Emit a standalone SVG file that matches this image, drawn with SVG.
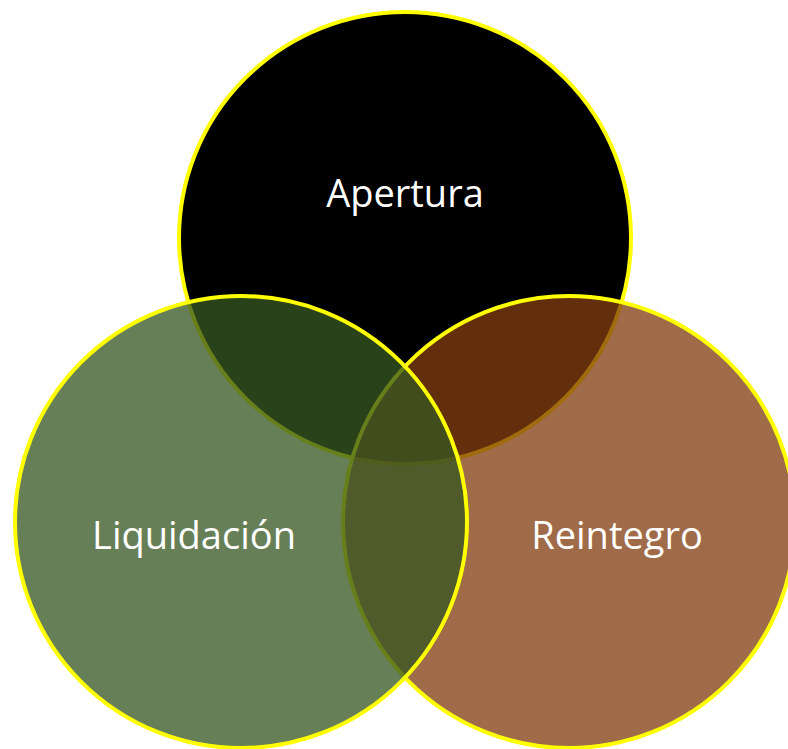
<svg xmlns="http://www.w3.org/2000/svg" width="788" height="749" viewBox="0 0 788 749">
<style>
.c{stroke:#ffff00;stroke-width:4}
.t{font-family:"Open Sans","Liberation Sans",sans-serif;font-size:38px;fill:#ffffff;text-anchor:middle}
</style>
<rect width="788" height="749" fill="#ffffff"/>
<g id="apertura">
<circle class="c" cx="405" cy="238" r="226" fill="#000000"/>
<text class="t" x="405" y="207">Apertura</text>
</g>
<g id="reintegro">
<circle class="c" cx="569" cy="522" r="226" fill="#823c10" fill-opacity="0.76" stroke-opacity="1"/>
<text class="t" x="617" y="549">Reintegro</text>
</g>
<g id="liquidacion">
<circle class="c" cx="241" cy="522" r="226" fill="#375722" fill-opacity="0.76"/>
<text class="t" x="194" y="549">Liquidación</text>
</g>
<g id="connectors"></g>
</svg>
